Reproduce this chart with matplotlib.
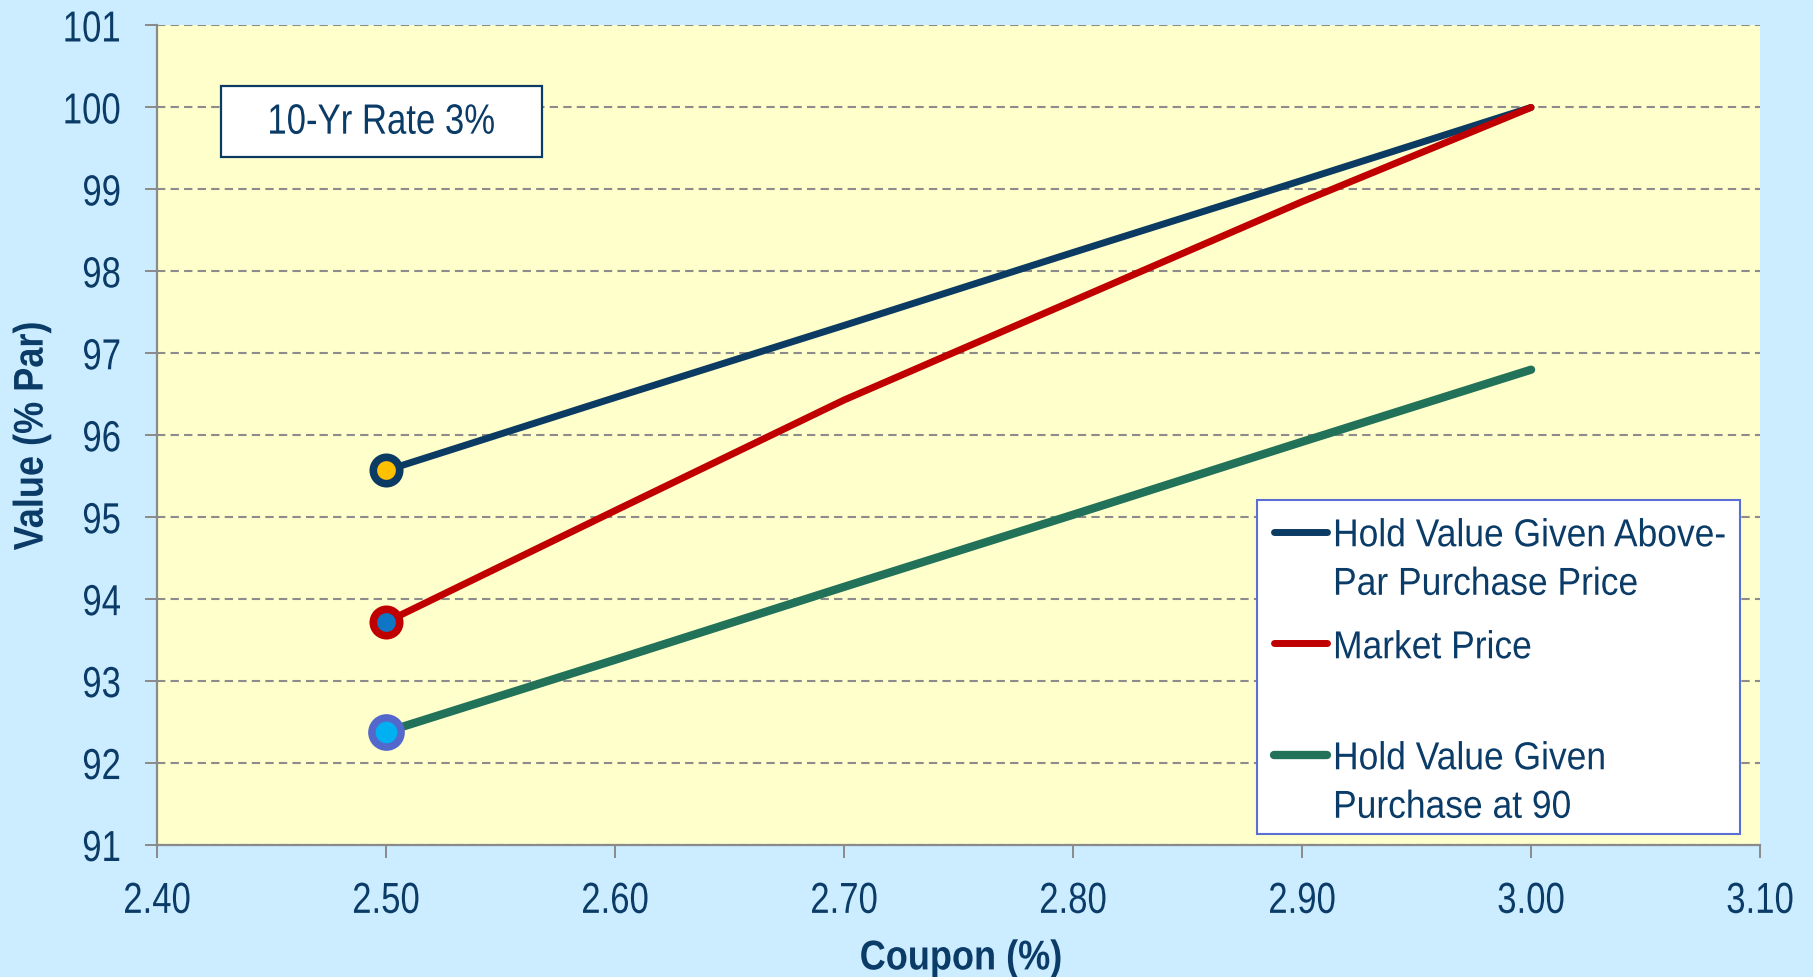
import matplotlib
matplotlib.use("Agg")
import matplotlib.pyplot as plt
from matplotlib.patches import Rectangle
from matplotlib.patheffects import AbstractPathEffect
from matplotlib.transforms import Affine2D

plt.rcParams["font.family"] = ["Liberation Sans", "DejaVu Sans"]

# coupon (%) vs value (% of par)
coupon = [2.50, 2.60, 2.70, 2.80, 2.90, 3.00]
hold_above_par = [95.57, 96.46, 97.34, 98.23, 99.11, 100.00]
market_price = [93.72, 95.08, 96.43, 97.64, 98.85, 100.00]
hold_at_90 = [92.38, 93.26, 94.15, 95.03, 95.92, 96.80]

x_ticks = [2.40, 2.50, 2.60, 2.70, 2.80, 2.90, 3.00, 3.10]
y_ticks = list(range(91, 102))

legend_lines = [
    ["Hold Value Given Above-", "Par Purchase Price"],
    ["Market Price"],
    ["Hold Value Given", "Purchase at 90"],
]
rate_note = "10-Yr Rate 3%"

TXT = "#0B3C68"
NAVY = "#0B3A62"
RED = "#C00000"
GREEN = "#22725A"


class Stretch(AbstractPathEffect):
    """Scale glyphs about their own centre (tall, narrow lettering)."""

    def __init__(self, sx=1.0, sy=1.0):
        super().__init__()
        self.sx, self.sy = sx, sy

    def draw_path(self, renderer, gc, tpath, affine, rgbFace=None):
        ext = tpath.get_extents(affine)
        cx = (ext.x0 + ext.x1) / 2
        cy = (ext.y0 + ext.y1) / 2
        tr = affine + Affine2D().translate(-cx, -cy).scale(self.sx, self.sy).translate(cx, cy)
        renderer.draw_path(gc, tpath, tr, rgbFace)


fig = plt.figure(figsize=(18.13, 9.77), dpi=100, facecolor="#CCECFF")
ax = fig.add_axes([0.0866, 0.1351, 0.8842, 0.8388])
ax.set_facecolor("#FFFFCC")

series = [
    (hold_above_par, NAVY, 5.0, NAVY, "#FFC000", 19, 5.5),
    (market_price, RED, 5.0, RED, "#0F76C6", 19, 5.5),
    (hold_at_90, GREEN, 6.0, "#5468CC", "#00B0F0", 21, 5.4),
]
for vals, col, lw, mec, mfc, ms, mew in series:
    ax.plot(coupon, vals, color=col, lw=lw, solid_capstyle="round",
            solid_joinstyle="round", zorder=3)
for vals, col, lw, mec, mfc, ms, mew in series:
    ax.plot(coupon[:1], vals[:1], ls="none", marker="o", ms=ms, mew=mew,
            mec=mec, mfc=mfc, zorder=4)

ax.set_xlim(2.40, 3.10)
ax.set_ylim(91, 101)
ax.set_xticks(x_ticks)
ax.set_xticklabels(["%.2f" % t for t in x_ticks])
ax.set_yticks(y_ticks)
ax.set_yticklabels([str(t) for t in y_ticks])

ax.yaxis.grid(True, color="#8C8C8C", lw=1.5, ls=(0, (4, 2.5)))
ax.set_axisbelow(True)

for side in ["top", "right"]:
    ax.spines[side].set_visible(False)
for side in ["left", "bottom"]:
    ax.spines[side].set_color("#8A8A8A")
    ax.spines[side].set_linewidth(1.6)

ax.tick_params(axis="both", direction="out", length=9, width=1.4,
               color="#8A8A8A", labelcolor=TXT, labelsize=25)
ax.tick_params(axis="y", pad=17)
ax.tick_params(axis="x", pad=19)
for lab in ax.get_xticklabels() + ax.get_yticklabels():
    lab.set_path_effects([Stretch(sy=1.25)])

fig.text(0.530, 0.0092, "Coupon (%)", ha="center", va="baseline",
         fontsize=26, fontweight="bold", color=TXT,
         path_effects=[Stretch(sy=1.15)])
fig.text(0.0175, 0.5537, "Value (% Par)", ha="center", va="center",
         rotation=90, fontsize=26, fontweight="bold", color=TXT,
         path_effects=[Stretch(sx=1.15)])

# note box, top left
ax.add_patch(Rectangle((0.0399, 0.8395), 0.2003, 0.0866, transform=ax.transAxes,
                       facecolor="white", edgecolor=NAVY, lw=1.6, zorder=5))
ax.text(0.1400, 0.8828, rate_note, transform=ax.transAxes, ha="center",
        va="center", fontsize=25, color=TXT, zorder=6,
        path_effects=[Stretch(sy=1.22)])

# legend box, drawn by hand so handles sit on the first text line
def fx(px):
    return (px - 157) / 1603.0

def fy(py):
    return (845 - py) / 819.5

ax.add_patch(Rectangle((fx(1257), fy(834)), fx(1740) - fx(1257), fy(500) - fy(834),
                       transform=ax.transAxes, facecolor="white",
                       edgecolor="#5B6ED2", lw=1.5, zorder=5))
handle_y = [532, 643, 755]
first_base = [545, 657, 768]
for (vals, col, lw, *_), lines, hy, by in zip(series, legend_lines, handle_y, first_base):
    ax.plot([fx(1274), fx(1327)], [fy(hy), fy(hy)], transform=ax.transAxes,
            color=col, lw=lw, solid_capstyle="round", zorder=6)
    for k, line in enumerate(lines):
        ax.text(fx(1333), fy(by + 48.5 * k), line, transform=ax.transAxes,
                ha="left", va="baseline", fontsize=25.5, color=TXT, zorder=6,
                path_effects=[Stretch(sy=1.1)])

fig.savefig("out.png", dpi=100, facecolor=fig.get_facecolor())
